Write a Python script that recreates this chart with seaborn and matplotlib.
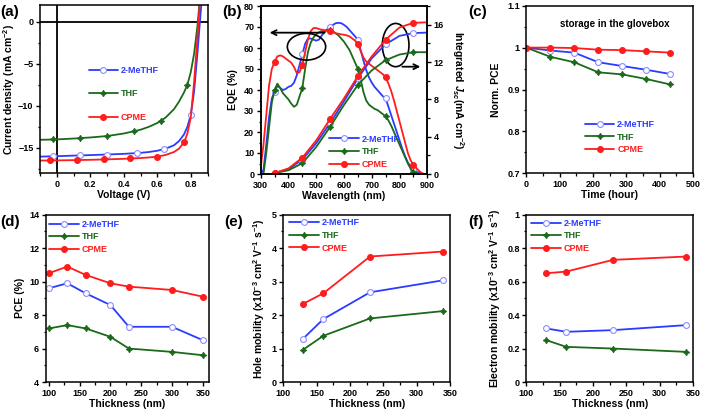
import numpy as np
import pandas as pd
import matplotlib
matplotlib.use("Agg")
import matplotlib.pyplot as plt
import matplotlib.ticker as ticker
from matplotlib.lines import Line2D
from matplotlib.patches import Ellipse
import seaborn as sns

sns.set_theme(style="ticks")
plt.rcParams['font.family'] = ['Liberation Sans', 'DejaVu Sans']
plt.rcParams['font.weight'] = 'bold'
plt.rcParams['axes.labelweight'] = 'bold'
plt.rcParams['mathtext.fontset'] = 'custom'
plt.rcParams['mathtext.rm'] = 'Liberation Sans:bold'
plt.rcParams['mathtext.it'] = 'Liberation Sans:italic:bold'
plt.rcParams['mathtext.bf'] = 'Liberation Sans:bold'
plt.rcParams['text.color'] = 'black'
plt.rcParams['axes.labelcolor'] = 'black'
plt.rcParams['axes.edgecolor'] = 'black'
plt.rcParams['axes.linewidth'] = 1.1
for a in ['xtick', 'ytick']:
    plt.rcParams[a + '.color'] = 'black'
    plt.rcParams[a + '.labelsize'] = 6.5
    plt.rcParams[a + '.major.size'] = 3.2
    plt.rcParams[a + '.minor.size'] = 1.8
    plt.rcParams[a + '.major.width'] = 1.0
    plt.rcParams[a + '.minor.width'] = 0.9
    plt.rcParams[a + '.major.pad'] = 1.5

SOLV = ['2-MeTHF', 'THF', 'CPME']
COLORS = {'2-MeTHF': '#2a3cff', 'THF': '#1b6a1b', 'CPME': '#ff1c1c'}
MK = {
    '2-MeTHF': dict(marker='o', markersize=4.2, markerfacecolor='white', markeredgecolor='#8c8cff', markeredgewidth=0.8),
    'THF': dict(marker=(4, 1, 0), markersize=4.5, markerfacecolor='#1b6a1b', markeredgecolor='#1b6a1b', markeredgewidth=0.8),
    'CPME': dict(marker='o', markersize=4.2, markerfacecolor='#ff1c1c', markeredgecolor='#ff1c1c', markeredgewidth=0.8),
}

# ---- (a) J-V curves
volt = [-0.1, 0.0, 0.1, 0.2, 0.3, 0.4, 0.5, 0.55, 0.6, 0.65, 0.7, 0.73, 0.76, 0.78, 0.80, 0.82, 0.84, 0.86, 0.88]
jv_mthf = [-16.05, -16.0, -15.93, -15.87, -15.8, -15.72, -15.6, -15.5, -15.35, -15.1, -14.7, -14.2, -13.4, -12.5, -11.1, -8.3, -3.7, 1.3, 6.0]
jv_thf = [-14.05, -14.0, -13.9, -13.77, -13.6, -13.3, -12.85, -12.5, -12.05, -11.4, -10.4, -9.5, -8.4, -7.5, -6.0, -3.8, -0.5, 4.0, 9.0]
jv_cpme = [-16.52, -16.5, -16.47, -16.43, -16.38, -16.31, -16.22, -16.15, -16.05, -15.85, -15.5, -15.1, -14.35, -13.3, -11.4, -7.2, -1.8, 4.0, 10.0]
mk_v_mthf = [-0.02, 0.14, 0.30, 0.48, 0.64, 0.80]
mk_j_mthf = [-16.0, -15.9, -15.8, -15.6, -15.15, -11.1]
mk_v_thf = [-0.02, 0.14, 0.30, 0.46, 0.62, 0.78]
mk_j_thf = [-14.0, -13.85, -13.6, -13.0, -11.8, -7.5]
mk_v_cpme = [-0.04, 0.12, 0.28, 0.44, 0.60, 0.76]
mk_j_cpme = [-16.5, -16.45, -16.37, -16.27, -16.05, -14.35]

# ---- (b) EQE and integrated Jsc
wl = list(range(300, 910, 10))
eqe_mthf = [0, 2, 14, 27, 36, 39, 42, 41, 40, 40.5, 41.5, 42, 43.5, 47, 52, 57, 62, 64.5, 64.5, 64, 63.5, 64, 66, 67.5, 69, 70, 71, 71.8, 72, 71.8, 71,
            70, 68.5, 67, 65.5, 64, 59, 54, 49.5, 46, 43.5, 41.5, 40, 38.5, 37, 36, 32, 28, 24, 20, 16, 12, 8.5, 5.5, 3.5, 2.5, 1.2, 0.5, 0, 0, 0]
eqe_thf = [0, 0, 10, 22, 34, 40, 43, 41, 38.5, 37, 35.5, 33.5, 32, 33, 37, 41, 50, 58, 62.5, 65, 66.5, 67.5, 68, 68, 68.5, 68.5, 68, 67, 66, 64.5, 63,
           61, 59, 56, 53, 50, 45, 39, 35, 33, 32, 31, 30.5, 29.5, 28.5, 27.5, 25.5, 23, 20, 17, 14, 11, 8, 5, 2.5, 1, 0, 0, 0, 0, 0]
eqe_cpme = [3, 14, 28, 42, 50, 53.5, 56, 56.5, 56, 55, 54, 53, 51, 48, 48.5, 52, 58, 64, 68, 69.5, 69.5, 69, 68.7, 68.5, 68.3, 68, 67.5, 67, 66.8, 66.5, 66.3,
            66, 65.5, 64.5, 63.5, 62, 58.5, 55.5, 53.5, 52.5, 51.5, 50.5, 49.5, 48.5, 47.5, 46, 43, 39.5, 35, 30, 25, 20, 15, 10, 6.5, 4.5, 3, 1.5, 0.5, 0, 0]
wl_j = [350, 400, 450, 500, 550, 600, 650, 700, 750, 800, 850, 900]
jsc_mthf = [0.1, 0.5, 1.55, 3.3, 5.45, 7.8, 10.25, 12.4, 13.9, 14.8, 15.1, 15.15]
jsc_thf = [0.1, 0.4, 1.15, 2.9, 5.05, 7.4, 9.55, 11.1, 12.2, 12.8, 13.05, 13.05]
jsc_cpme = [0.1, 0.6, 1.75, 3.6, 5.9, 8.1, 10.5, 12.6, 14.4, 15.7, 16.2, 16.25]

# ---- (c) stability
hours = [0, 72, 144, 216, 288, 360, 432]
pce_t_mthf = [1, 0.993, 0.988, 0.965, 0.956, 0.947, 0.937]
pce_t_thf = [1, 0.978, 0.965, 0.941, 0.936, 0.925, 0.912]
pce_t_cpme = [1, 1.0, 0.999, 0.995, 0.994, 0.991, 0.988]

# ---- (d) PCE vs thickness
thick_d = [100, 130, 160, 200, 230, 300, 350]
pce_mthf = [9.6, 9.9, 9.3, 8.6, 7.3, 7.3, 6.5]
pce_thf = [7.2, 7.4, 7.2, 6.7, 6.0, 5.8, 5.6]
pce_cpme = [10.5, 10.9, 10.4, 9.9, 9.7, 9.5, 9.1]

# ---- (e), (f) mobilities
thick_m = [130, 160, 230, 340]
hole_mthf = [1.3, 1.88, 2.68, 3.04]
hole_thf = [0.97, 1.38, 1.9, 2.12]
hole_cpme = [2.34, 2.65, 3.75, 3.9]
elec_mthf = [0.32, 0.30, 0.31, 0.34]
elec_thf = [0.25, 0.21, 0.20, 0.18]
elec_cpme = [0.65, 0.66, 0.73, 0.75]

W, H = 702, 416
fig = plt.figure(figsize=(W / 100, H / 100), dpi=100)


def add_ax(l, t, r, b):
    return fig.add_axes([l / W, 1 - b / H, (r - l) / W, (b - t) / H])


def draw(ax, x, y, name, marks=True, lw=1.3, **kw):
    style = dict(MK[name]) if marks else {}
    sns.lineplot(x=x, y=y, ax=ax, color=COLORS[name], lw=lw, errorbar=None, **style, **kw)


def legend(ax, anchor, spacing):
    handles = [Line2D([], [], color=COLORS[n], lw=1.3, **MK[n]) for n in SOLV]
    leg = ax.legend(handles, SOLV, loc='upper left', bbox_to_anchor=anchor, frameon=False,
                    fontsize=6.5, handlelength=3.3, handletextpad=0.3, labelspacing=spacing,
                    borderaxespad=0, borderpad=0)
    for t, n in zip(leg.get_texts(), SOLV):
        t.set_color(COLORS[n])


def finish(ax, xmaj, xmin, ymaj, ymin):
    ax.xaxis.set_major_locator(ticker.MultipleLocator(xmaj))
    ax.xaxis.set_minor_locator(ticker.MultipleLocator(xmin))
    ax.yaxis.set_major_locator(ticker.MultipleLocator(ymaj))
    ax.yaxis.set_minor_locator(ticker.MultipleLocator(ymin))
    ax.tick_params(which='both', direction='out', top=False, right=False)
    for s in ax.spines.values():
        s.set_visible(True)
        s.set_linewidth(1.1)


LBL = 7.5

# (a)
ax = add_ax(40, 5, 207.5, 173)
ax.axhline(0, color='black', lw=1.3)
ax.axvline(0, color='black', lw=1.3)
for name, jv, mv, mj in [('2-MeTHF', jv_mthf, mk_v_mthf, mk_j_mthf), ('THF', jv_thf, mk_v_thf, mk_j_thf),
                         ('CPME', jv_cpme, mk_v_cpme, mk_j_cpme)]:
    draw(ax, volt, jv, name, marks=False)
    draw(ax, mv, mj, name, linestyle='none')
ax.set_xlim(-0.1, 0.9)
ax.set_ylim(-18, 2)
finish(ax, 0.2, 0.1, 5, 2.5)
ax.xaxis.set_major_formatter(ticker.FuncFormatter(lambda v, p: '0' if abs(v) < 1e-9 else f'{v:.1f}'))
ax.set_xlabel('Voltage (V)', fontsize=LBL, labelpad=1)
ax.set_ylabel('Current density (mA cm$^{-2}$)', fontsize=LBL, labelpad=1)
legend(ax, (0.29, 0.637), 1.6)

# (b)
ax = add_ax(260.7, 6, 427.3, 174)
ax2 = ax.twinx()
for name, e in [('2-MeTHF', eqe_mthf), ('THF', eqe_thf), ('CPME', eqe_cpme)]:
    draw(ax, wl, e, name, markevery=(5, 10))
for name, j in [('2-MeTHF', jsc_mthf), ('THF', jsc_thf), ('CPME', jsc_cpme)]:
    draw(ax2, wl_j, j, name, markevery=(0, 2))
ax.set_xlim(300, 900)
ax.set_ylim(0, 80)
ax2.set_ylim(0, 18)
finish(ax, 100, 50, 10, 5)
ax2.yaxis.set_major_locator(ticker.MultipleLocator(4))
ax2.yaxis.set_minor_locator(ticker.MultipleLocator(2))
ax2.tick_params(which='both', direction='out', right=True, left=False)
ax.set_xlabel('Wavelength (nm)', fontsize=LBL, labelpad=1)
ax.set_ylabel('EQE (%)', fontsize=LBL, labelpad=4)
ax2.set_ylabel('Integrated $\\mathit{J}_{sc}$(mA cm$^{-2}$)', fontsize=LBL, rotation=270,
               va='bottom', labelpad=4)
ax.add_patch(Ellipse((465, 60.6), 138, 12.7, fill=False, ec='black', lw=1.2, zorder=5))
ax.add_patch(Ellipse((786, 61.4), 96, 20.6, fill=False, ec='black', lw=1.2, zorder=5))
ax.annotate('', xy=(322, 67.3), xytext=(540, 67.3),
            arrowprops=dict(arrowstyle='->', lw=1.3, color='black', mutation_scale=9))
ax.annotate('', xy=(885, 51.1), xytext=(800, 51.1),
            arrowprops=dict(arrowstyle='->', lw=1.3, color='black', mutation_scale=9))
legend(ax2, (0.41, 0.235), 0.4)

# (c)
ax = add_ax(526.3, 5.7, 693, 173.3)
for name, p in [('2-MeTHF', pce_t_mthf), ('THF', pce_t_thf), ('CPME', pce_t_cpme)]:
    draw(ax, hours, p, name)
ax.set_xlim(0, 500)
ax.set_ylim(0.7, 1.1)
finish(ax, 100, 50, 0.1, 0.05)
ax.yaxis.set_major_formatter(ticker.FuncFormatter(lambda v, p: f'{v:g}'))
ax.set_xlabel('Time (hour)', fontsize=LBL, labelpad=1)
ax.set_ylabel('Norm. PCE', fontsize=LBL, labelpad=4)
ax.text(0.53, 0.89, 'storage in the glovebox', transform=ax.transAxes, ha='center', va='center', fontsize=7)
legend(ax, (0.35, 0.318), 0.4)

# (d)
ax = add_ax(45.7, 214.7, 209, 382)
for name, p in [('2-MeTHF', pce_mthf), ('THF', pce_thf), ('CPME', pce_cpme)]:
    draw(ax, thick_d, p, name)
ax.set_xlim(95, 360)
ax.set_ylim(4, 14)
finish(ax, 50, 25, 2, 1)
ax.set_xlabel('Thickness (nm)', fontsize=LBL, labelpad=1)
ax.set_ylabel('PCE (%)', fontsize=LBL, labelpad=3)
legend(ax, (0.022, 0.97), 0.4)

# (e)
ax = add_ax(283.3, 214.7, 450, 382)
for name, m in [('2-MeTHF', hole_mthf), ('THF', hole_thf), ('CPME', hole_cpme)]:
    draw(ax, thick_m, m, name)
ax.set_xlim(100, 350)
ax.set_ylim(0, 5)
finish(ax, 50, 25, 1, 0.5)
ax.set_xlabel('Thickness (nm)', fontsize=LBL, labelpad=1)
ax.set_ylabel('Hole mobility (x10$^{-3}$ cm$^{2}$ V$^{-1}$ s$^{-1}$)', fontsize=LBL, labelpad=3)
legend(ax, (0.034, 0.978), 0.4)

# (f)
ax = add_ax(526.3, 214.7, 693, 382)
for name, m in [('2-MeTHF', elec_mthf), ('THF', elec_thf), ('CPME', elec_cpme)]:
    draw(ax, thick_m, m, name)
ax.set_xlim(100, 350)
ax.set_ylim(0, 1)
finish(ax, 50, 25, 0.2, 0.1)
ax.yaxis.set_major_formatter(ticker.FuncFormatter(lambda v, p: f'{v:g}'))
ax.set_xlabel('Thickness (nm)', fontsize=LBL, labelpad=1)
ax.set_ylabel('Electron mobility (x10$^{-3}$ cm$^{2}$ V$^{-1}$ s$^{-1}$)', fontsize=LBL, labelpad=3)
legend(ax, (0.028, 0.975), 0.4)

# panel labels
for lab, x, y in [('(a)', 0, 12), ('(b)', 222, 12), ('(c)', 468, 12),
                  ('(d)', 0, 222), ('(e)', 224, 222), ('(f)', 468, 222)]:
    fig.text(x / W, 1 - y / H, lab, fontsize=11, fontweight='bold', ha='left', va='center')

fig.savefig('out.png', dpi=100)
